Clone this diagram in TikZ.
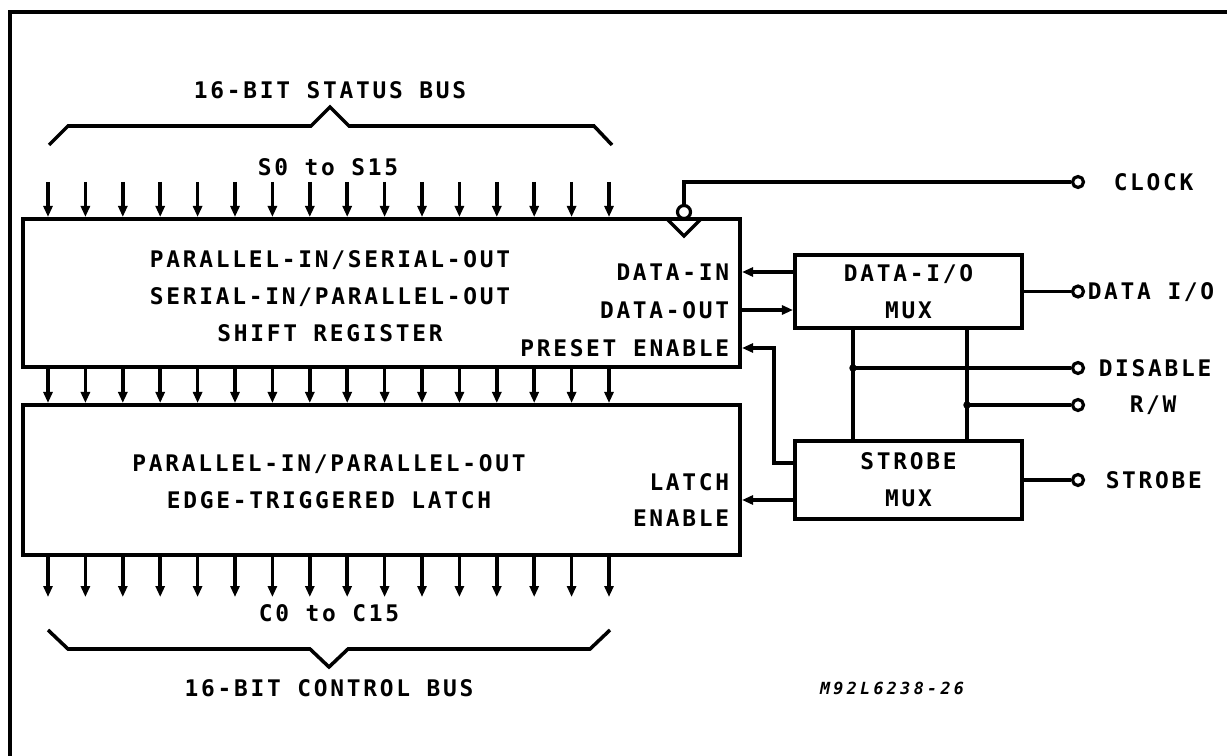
\documentclass[tikz,border=0pt]{standalone}
\usepackage{fontspec}
\newfontfamily\plotfont[LetterSpace=12]{DejaVu Sans Mono}
\newfontfamily\tagfont[LetterSpace=20]{DejaVu Sans Mono}
\usetikzlibrary{arrows.meta,positioning}

\begin{document}
\begin{tikzpicture}[
    x=0.2mm, y=-0.2mm,
    line width=2pt,
    font=\plotfont\bfseries\fontsize{13}{21}\selectfont,
    blk/.style={draw, line width=2.3pt, minimum width=143.4mm, inner sep=0pt},
    mux/.style={draw, line width=2.3pt, minimum width=45.4mm, minimum height=14.6mm, align=center, inner sep=0pt},
    lbl/.style={align=center, inner sep=0pt},
    pin/.style={draw, circle, fill=white, minimum size=2.2mm, inner sep=0pt, line width=1.8pt},
    arr/.style={-{Triangle[length=2.2mm,width=1.8mm]}}
  ]
  \useasboundingbox (0,0) rectangle (1227,756);
  \draw[line width=2.6pt] (1227,12) -- (10,12) -- (10,756);

  % registers
  \node[blk, minimum height=29.6mm] (sr) at (381.5,293) {};
  \node[blk, minimum height=30mm] (lt) at (381.5,480) {};
  \node[lbl] (srtxt) at (330,296) {PARALLEL-IN/SERIAL-OUT\\SERIAL-IN/PARALLEL-OUT\\SHIFT REGISTER};
  \node[lbl] (lttxt) at (329,482) {PARALLEL-IN/PARALLEL-OUT\\EDGE-TRIGGERED LATCH};
  \node[lbl, anchor=east] (din) at (731,272) {DATA-IN};
  \node[lbl, anchor=east] (dout) at (731,310) {DATA-OUT};
  \node[lbl, anchor=east] (pen) at (731,348) {PRESET ENABLE};
  \node[lbl, anchor=east, align=right] (len) at (731,500) {LATCH\\ENABLE};

  % muxes
  \node[mux] (dmux) at (908.5,291.5) {DATA-I/O\\MUX};
  \node[mux, minimum height=15.6mm] (smux) at (908.5,480) {STROBE\\MUX};

  % buses
  \foreach \i in {0,...,15} {
    \coordinate (s\i) at ({48+37.4*\i},182);
    \coordinate (c\i) at ({48+37.4*\i},597);
    \draw[arr] (s\i) -- (s\i |- sr.north);
    \draw[arr] (s\i |- sr.south) -- (s\i |- lt.north);
    \draw[arr] (s\i |- lt.south) -- (c\i);
  }
  \draw (49,145) -- (68,126) -- (311,126) -- (330,107) -- (349,126) -- (594,126) -- (612,145);
  \draw (48,630) -- (68,649) -- (310,649) -- (329,667) -- (348,649) -- (590,649) -- (610,630);
  \node[lbl] (sbus) at (330,90) {16-BIT STATUS BUS};
  \node[lbl] (sbits) at (328,167) {S0 to S15};
  \node[lbl] (cbits) at (329,613) {C0 to C15};
  \node[lbl] (cbus) at (329,688) {16-BIT CONTROL BUS};

  % clock input
  \node[pin, minimum size=2.6mm] (ck) at (684,212) {};
  \draw (667,219) -- (684,236) -- (701,219);

  % pins
  \node[pin] (clk) at (1078,182) {};
  \node[pin] (dio) at (1078,291.5) {};
  \node[pin] (dis) at (1078,368) {};
  \node[pin] (rw) at (1078,405) {};
  \node[pin] (stb) at (1078,480) {};
  \node[lbl, anchor=west] at (1112,182) {CLOCK};
  \node[lbl, anchor=west] at (1086,292) {DATA I/O};
  \node[lbl, anchor=west] at (1097,368) {DISABLE};
  \node[lbl, anchor=west] at (1128,405) {R/W};
  \node[lbl, anchor=west] at (1104,480) {STROBE};

  % wiring
  \draw (ck) |- (clk);
  \draw (dmux) -- (dio);
  \draw (smux) -- (stb);
  \draw[arr] (dmux.west |- din) -- (sr.east |- din);
  \draw[arr] (sr.east |- dout) -- (dmux.west |- dout);
  \draw[arr] ([yshift=3.4mm]smux.west) -- ++(-19,0) |- (sr.east |- pen);
  \draw[arr] (smux.west |- len) -- (lt.east |- len);
  \coordinate (ja) at (853,368);
  \coordinate (jb) at (967,405);
  \draw (dmux.south -| ja) -- (smux.north -| ja);
  \draw (dmux.south -| jb) -- (smux.north -| jb);
  \draw (ja) -- (dis);
  \draw (jb) -- (rw);
  \fill (ja) circle (0.75mm);
  \fill (jb) circle (0.75mm);

  \node[lbl, font=\tagfont\bfseries\itshape\fontsize{9.5}{10}\selectfont] (tag) at (892,688) {M92L6238-26};
\end{tikzpicture}
\end{document}
